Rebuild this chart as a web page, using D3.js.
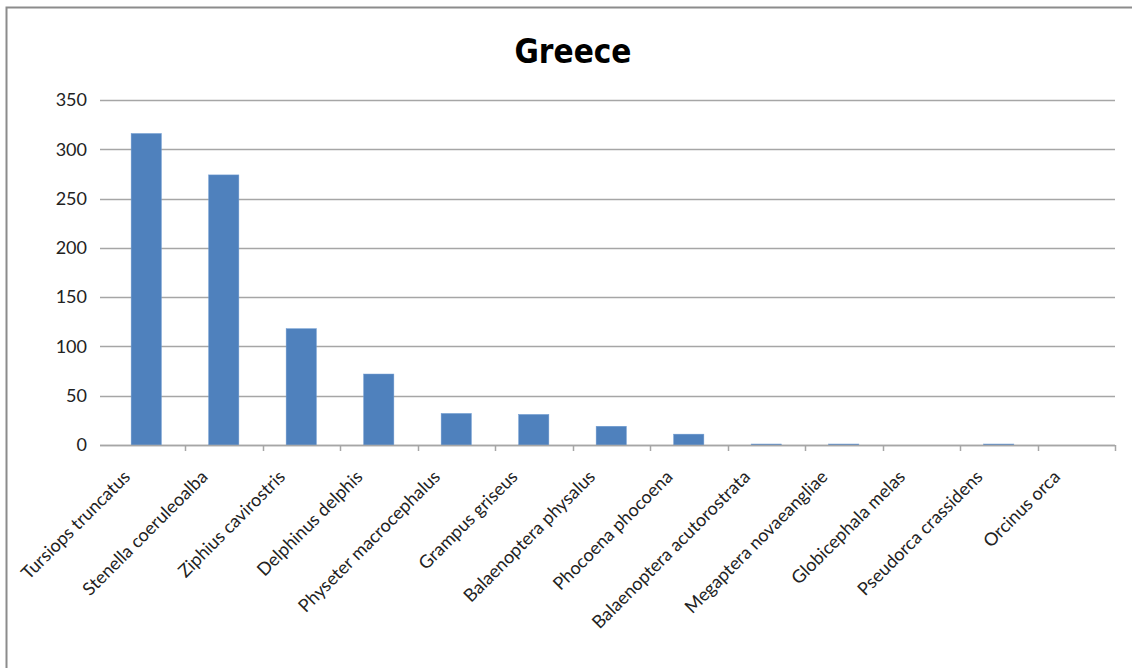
<!DOCTYPE html>
<html>
<head>
<meta charset="utf-8">
<script src="https://cdn.jsdelivr.net/npm/d3@7"></script>
<style>
  html, body { margin: 0; padding: 0; background: #fff; }
  svg { display: block; }
</style>
</head>
<body>
<svg id="chart" width="1132" height="668"></svg>
<script>
const title = "Greece";
const categories = [
  "Tursiops truncatus", "Stenella coeruleoalba", "Ziphius cavirostris",
  "Delphinus delphis", "Physeter macrocephalus", "Grampus griseus",
  "Balaenoptera physalus", "Phocoena phocoena", "Balaenoptera acutorostrata",
  "Megaptera novaeangliae", "Globicephala melas", "Pseudorca crassidens",
  "Orcinus orca"
];
const values = [316, 274, 118, 72, 32, 31, 19, 11, 1, 1, 0, 1, 0];
const yTicks = [0, 50, 100, 150, 200, 250, 300, 350];

const svg = d3.select("#chart");
const font = "Lato, 'Open Sans', sans-serif";

// frame
svg.append("rect")
  .attr("x", 6.5).attr("y", 7.5)
  .attr("width", 1140).attr("height", 700)
  .attr("fill", "none").attr("stroke", "#8c8c8c").attr("stroke-width", 2);

const plot = { left: 100, bandLeft: 107.5, right: 1115, top: 100, bottom: 445 };

const x = d3.scaleBand()
  .domain(categories)
  .range([plot.bandLeft, plot.right])
  .paddingInner(0.61).paddingOuter(0.305);

const y = d3.scaleLinear().domain([0, 350]).range([plot.bottom, plot.top]);

// gridlines
svg.append("g").selectAll("line").data(yTicks).join("line")
  .attr("x1", plot.left).attr("x2", plot.right)
  .attr("y1", d => Math.round(y(d)) + 0.5).attr("y2", d => Math.round(y(d)) + 0.5)
  .attr("stroke", "#a6a6a6").attr("stroke-width", 1.5);

// y axis labels
const yAxis = d3.axisLeft(y).tickValues(yTicks).tickSize(0).tickPadding(13);
const yg = svg.append("g").attr("transform", `translate(${plot.left},0)`).call(yAxis);
yg.select(".domain").remove();
yg.selectAll("text").attr("font-family", font).attr("font-size", 18).attr("fill", "#222");

// bars
svg.append("g").selectAll("rect").data(values).join("rect")
  .attr("x", (d, i) => x(categories[i]))
  .attr("width", x.bandwidth())
  .attr("y", d => y(d))
  .attr("height", d => y(0) - y(d))
  .attr("fill", "#4f81bd")
  .attr("stroke", "#6f9bd1").attr("stroke-width", 0.5);

// x axis with boundary ticks
const step = x.step();
const bounds = categories.map((c, i) => plot.bandLeft + step * (i + 1));
const xg = svg.append("g");
xg.append("line")
  .attr("x1", plot.left).attr("x2", plot.right)
  .attr("y1", plot.bottom + 0.5).attr("y2", plot.bottom + 0.5)
  .attr("stroke", "#a6a6a6").attr("stroke-width", 1.5);
xg.selectAll("line.tick").data(bounds).join("line").attr("class", "tick")
  .attr("x1", d => Math.round(d) + 0.5).attr("x2", d => Math.round(d) + 0.5)
  .attr("y1", plot.bottom).attr("y2", plot.bottom + 6)
  .attr("stroke", "#a6a6a6").attr("stroke-width", 1.5);

// x labels rotated -45
svg.append("g").selectAll("text").data(categories).join("text")
  .attr("transform", d => `translate(${x(d) + x.bandwidth() / 2 - 15},${plot.bottom + 33}) rotate(-45)`)
  .attr("text-anchor", "end")
  .attr("font-family", font).attr("font-size", 18).attr("fill", "#222")
  .text(d => d);

// title
svg.append("text")
  .attr("x", 573).attr("y", 63)
  .attr("text-anchor", "middle")
  .attr("font-family", "'DejaVu Sans Condensed', 'DejaVu Sans', sans-serif")
  .attr("font-weight", "bold").attr("font-size", 33).attr("fill", "#000")
  .text(title);
</script>
</body>
</html>
